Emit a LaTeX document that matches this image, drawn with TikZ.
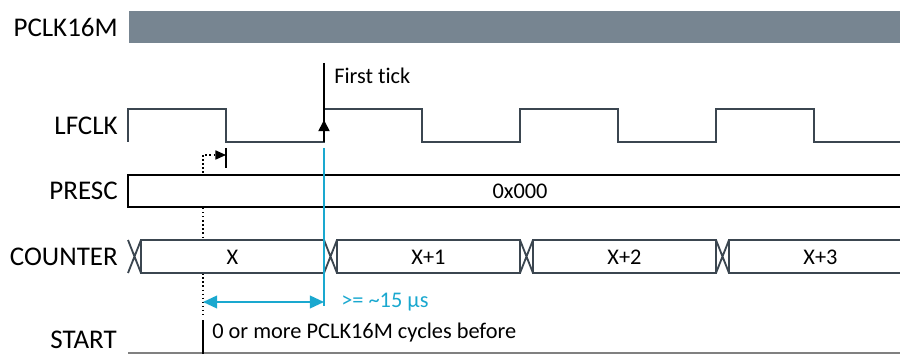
\documentclass[tikz,border=0pt]{standalone}
\usepackage{fontspec}
\setmainfont[Ligatures=NoCommon]{Carlito}
\usetikzlibrary{arrows.meta}
\definecolor{barcol}{HTML}{778591}
\definecolor{wavecol}{HTML}{3B4650}
\definecolor{nblue}{HTML}{1AA8CF}
\begin{document}
\begin{tikzpicture}[x=0.025cm, y=-0.025cm,
    sig/.style={font=\fontsize{19.2}{22}\selectfont, anchor=east, inner sep=0pt},
    note/.style={font=\fontsize{15.9}{19}\selectfont, inner sep=0pt},
    wave/.style={draw=wavecol, line width=1.3pt},
    valbox/.style={wave, fill=white},
    tip/.style={-{Triangle[length=8pt,width=8pt]}}]
    \clip (0,0) rectangle (900,354);

    % signal names
    \node[sig] (pclk) at (118,27) {PCLK16M};
    \node[sig] (lfclk) at (118,126) {LFCLK};
    \node[sig] (presc) at (118,191) {PRESC};
    \node[sig] (counter) at (118,257) {COUNTER};
    \node[sig] (start) at (117,340) {START};

    % PCLK16M
    \fill[barcol] (129,11) rectangle (900,43);

    % LFCLK
    \draw[wave] (128,142) -- (128,109) -- (226,109) -- (226,142) -- (324,142) -- (324,109)
        -- (422,109) -- (422,142) -- (520,142) -- (520,109) -- (618,109) -- (618,142)
        -- (716,142) -- (716,109) -- (814,109) -- (814,142) -- (900,142);

    % START marker
    \coordinate (mark) at (203,173);
    \coordinate (edge) at (226,155);
    \draw[dotted, line width=0.9pt] (203,155) -- (203,318);
    \draw[dotted, line width=0.9pt, -{Triangle[length=7.5pt,width=6.5pt]}] (mark) |- (edge);
    \draw[line width=1.2pt] (226,148) -- (226,168);

    % PRESC
    \draw[line width=1.5pt, fill=white] (128,175) rectangle (910,207);
    \node[note] (prescval) at (520,191) {0x000};

    % COUNTER
    \foreach \i/\val in {0/X, 1/X+1, 2/X+2, 3/X+3} {
        \draw[wave] (128+196*\i,240) -- ++(13,33) (128+196*\i,273) -- ++(13,-33);
        \draw[valbox] (141+196*\i,240) rectangle (324+196*\i,273);
        \node[note] (cnt\i) at (232.5+196*\i,257) {\val};
    }

    % first tick
    \coordinate (ticktop) at (324,63);
    \coordinate (tickbot) at (324,142);
    \draw[line width=1.2pt] (ticktop) -- (tickbot);
    \draw[line width=1.2pt, tip] (tickbot) -- (324,120);
    \node[note, anchor=west] (tick) at (334,76) {First tick};

    % delay
    \coordinate (dlyA) at (203,302);
    \coordinate (dlyB) at (324,302);
    \draw[nblue, line width=1.3pt] (324,148) -- (324,306);
    \draw[nblue, line width=1.3pt, {Triangle[length=10pt,width=9pt]}-{Triangle[length=10pt,width=9pt]}] (dlyA) -- (dlyB);
    \node[note, nblue, anchor=west] (dly) at (341,302) {>= \textasciitilde 15 µs};

    % START
    \draw[gray, line width=1.2pt] (128,353) -- (900,353);
    \draw[line width=1.2pt] (203,320) -- (203,354);
    \node[note, anchor=west] (cycles) at (212,333) {0 or more PCLK16M cycles before};
\end{tikzpicture}
\end{document}
